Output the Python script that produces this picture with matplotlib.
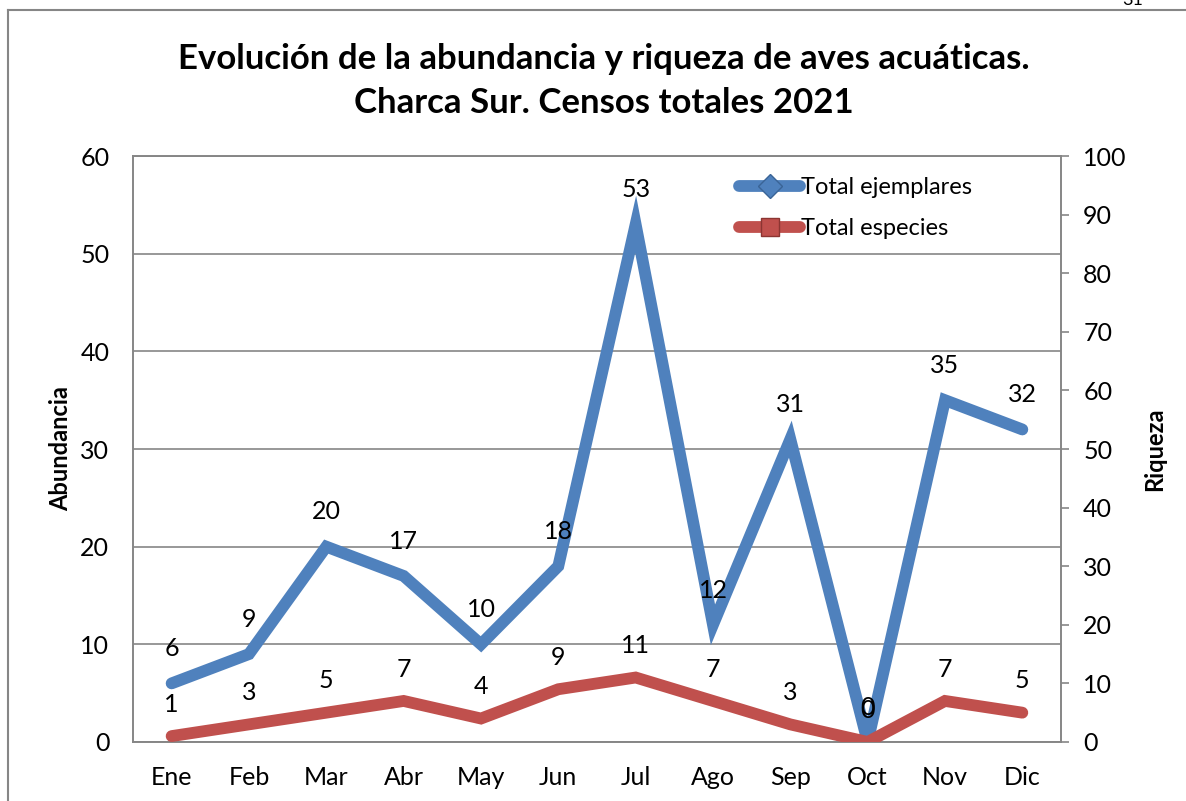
import matplotlib.pyplot as plt
from matplotlib.lines import Line2D

plt.rcParams['font.family'] = ['Lato', 'DejaVu Sans']

meses = ["Ene", "Feb", "Mar", "Abr", "May", "Jun", "Jul", "Ago", "Sep", "Oct", "Nov", "Dic"]
ejemplares = [6, 9, 20, 17, 10, 18, 53, 12, 31, 0, 35, 32]
especies = [1, 3, 5, 7, 4, 9, 11, 7, 3, 0, 7, 5]

azul = "#4F81BD"
rojo = "#C0504D"
gris = "#868686"

fig = plt.figure(figsize=(11.86, 8.01), dpi=100)
ax = fig.add_axes([0.1121, 0.0737, 0.7825, 0.7315])
ax2 = ax.twinx()

x = list(range(len(meses)))
ax.plot(x, ejemplares, color=azul, lw=8.5, solid_capstyle="round", solid_joinstyle="miter", zorder=3)
ax2.plot(x, especies, color=rojo, lw=8.5, solid_capstyle="round", solid_joinstyle="miter", zorder=3)

for xi, v in zip(x, ejemplares):
    ax.annotate(str(v), (xi, v), xytext=(0, 25), textcoords="offset points",
                ha="center", va="center", fontsize=18, zorder=5)
for xi, v in zip(x, especies):
    ax2.annotate(str(v), (xi, v), xytext=(0, 23), textcoords="offset points",
                 ha="center", va="center", fontsize=18, zorder=5)

ax.set_xlim(-0.5, 11.5)
ax.set_ylim(0, 60)
ax2.set_ylim(0, 100)
ax.set_yticks(range(0, 61, 10))
ax2.set_yticks(range(0, 101, 10))
ax.set_xticks(x)
ax.set_xticklabels(meses)

ax.grid(axis="y", color=gris, lw=1.2)
ax.set_axisbelow(True)
for a in (ax, ax2):
    for s in a.spines.values():
        s.set_color(gris)
        s.set_linewidth(1.2)
    a.tick_params(labelsize=18, colors="black")
ax.tick_params(axis="y", length=0, pad=17)
ax.tick_params(axis="x", length=0, pad=17)
ax2.tick_params(axis="y", length=6, color=gris, width=1.2, pad=10)

ax.set_ylabel("Abundancia", fontsize=17, fontweight="bold", labelpad=6)
ax2.set_ylabel("Riqueza", fontsize=17, fontweight="bold", labelpad=12)

fig.text(0.509, 0.899, "Evolución de la abundancia y riqueza de aves acuáticas.\nCharca Sur. Censos totales 2021",
         ha="center", va="center", fontsize=25, fontweight="bold", linespacing=1.45)

handles = [
    Line2D([], [], color=azul, lw=8.5, marker="D", markersize=12, markerfacecolor=azul,
           markeredgecolor="#3a6496", solid_capstyle="round"),
    Line2D([], [], color=rojo, lw=8.5, marker="s", markersize=13, markerfacecolor=rojo,
           markeredgecolor="#8c3532", solid_capstyle="round"),
]
ax2.legend(handles, ["Total ejemplares", "Total especies"], loc="upper left",
           bbox_to_anchor=(0.63, 1.0), frameon=False, fontsize=17, handlelength=2.6,
           handletextpad=0.05, labelspacing=0.85)

# marco exterior de la página
fig.add_artist(Line2D([0.0067, 1.0], [0.9875, 0.9875], color=gris, lw=1.5))
fig.add_artist(Line2D([0.0067, 0.0067], [0.0, 0.9875], color=gris, lw=1.5))
fig.text(0.955, 1.0, "31", ha="center", va="center", fontsize=13)

fig.savefig("out.png", dpi=100)
